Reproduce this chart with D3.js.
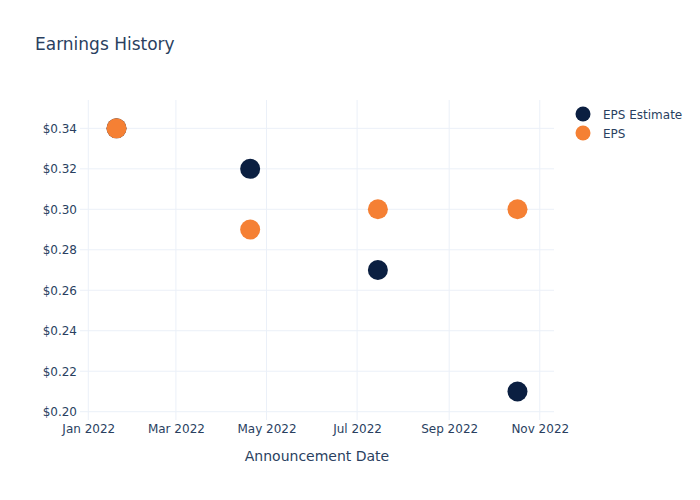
<!DOCTYPE html>
<html>
<head>
<meta charset="utf-8">
<script src="https://cdn.jsdelivr.net/npm/d3@7"></script>
<style>
  body { margin: 0; background: #fff; }
  text { font-family: "DejaVu Sans", Verdana, sans-serif; }
</style>
</head>
<body>
<svg id="chart" width="700" height="500"></svg>
<script>
const dates = ["2022-01-20", "2022-04-20", "2022-07-15", "2022-10-17"];
const epsEstimate = [0.34, 0.32, 0.27, 0.21];
const eps = [0.34, 0.29, 0.30, 0.30];
const seriesNames = ["EPS Estimate", "EPS"];
const seriesColors = ["#0b1f41", "#f58034"];
const xTickDates = ["2022-01-01", "2022-03-01", "2022-05-01", "2022-07-01", "2022-09-01", "2022-11-01"];
const yTicks = [0.20, 0.22, 0.24, 0.26, 0.28, 0.30, 0.32, 0.34];

(function () {
const parse = d3.utcParse("%Y-%m-%d");
const svg = d3.select("#chart");
const pLeft = 80, pRight = 554, pTop = 100, pBottom = 420;
const textColor = "#2a3f5f", gridColor = "#ebf0f8";

const x = d3.scaleUtc()
  .domain([new Date(Date.UTC(2021, 11, 26, 10)), new Date(Date.UTC(2022, 10, 10, 14))])
  .range([pLeft, pRight]);
const y = d3.scaleLinear().domain([0.1959, 0.354]).range([pBottom, pTop]);

// grid
const g = svg.append("g");
g.selectAll("line.v").data(xTickDates).join("line")
  .attr("x1", d => x(parse(d))).attr("x2", d => x(parse(d)))
  .attr("y1", pTop).attr("y2", pBottom)
  .attr("stroke", gridColor).attr("stroke-width", 1);
g.selectAll("line.h").data(yTicks).join("line")
  .attr("x1", pLeft).attr("x2", pRight)
  .attr("y1", d => y(d)).attr("y2", d => y(d))
  .attr("stroke", gridColor).attr("stroke-width", 1);

// axes
const xAxis = d3.axisBottom(x)
  .tickValues(xTickDates.map(parse))
  .tickFormat(d3.utcFormat("%b %Y"))
  .tickSize(0).tickPadding(4);
const xg = svg.append("g").attr("transform", `translate(0,${pBottom})`).call(xAxis);
xg.select(".domain").remove();
xg.selectAll("text").attr("fill", textColor).attr("font-size", 12);

const yAxis = d3.axisLeft(y)
  .tickValues(yTicks)
  .tickFormat(d => "$" + d3.format(".2f")(d))
  .tickSize(0).tickPadding(3);
const yg = svg.append("g").attr("transform", `translate(${pLeft},0)`).call(yAxis);
yg.select(".domain").remove();
yg.selectAll("text").attr("fill", textColor).attr("font-size", 12);

// points
const series = [epsEstimate, eps];
series.forEach((vals, si) => {
  svg.append("g").selectAll("circle").data(vals).join("circle")
    .attr("cx", (d, i) => x(parse(dates[i])))
    .attr("cy", d => y(d))
    .attr("r", 10)
    .attr("fill", seriesColors[si]);
});

// title
svg.append("text").attr("x", 35).attr("y", 50)
  .attr("fill", textColor).attr("font-size", 17).text("Earnings History");

// x axis title
svg.append("text").attr("x", (pLeft + pRight) / 2).attr("y", 461)
  .attr("text-anchor", "middle").attr("fill", textColor).attr("font-size", 14)
  .text("Announcement Date");

// legend
const leg = svg.append("g");
seriesNames.forEach((name, i) => {
  const ly = 114 + i * 19;
  leg.append("circle").attr("cx", 583).attr("cy", ly).attr("r", 7.5).attr("fill", seriesColors[i]);
  leg.append("text").attr("x", 603).attr("y", ly + 4.5)
    .attr("fill", textColor).attr("font-size", 12).text(name);
});
})();
</script>
</body>
</html>
